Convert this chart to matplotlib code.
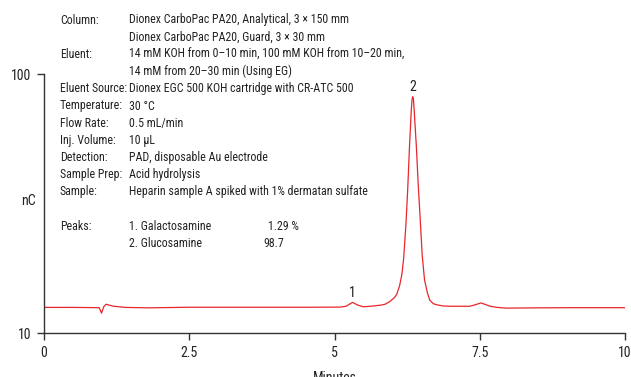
import matplotlib
matplotlib.use('Agg')
import matplotlib.pyplot as plt

plt.rcParams['font.family'] = ['Roboto Condensed', 'DejaVu Sans']

# chromatogram trace (minutes, nC)
minutes = [0.0, 0.5, 0.95, 0.99, 1.03, 1.07, 1.12, 1.2, 1.4, 1.8, 2.5, 3.5, 4.5,
           5.1, 5.2, 5.31, 5.4, 5.5, 5.67, 5.8, 5.87, 5.95, 6.03, 6.07, 6.12,
           6.16, 6.19, 6.23, 6.26, 6.29, 6.32, 6.335, 6.346, 6.358, 6.37, 6.41,
           6.44, 6.47, 6.51, 6.55, 6.6, 6.64, 6.7, 6.76, 6.87, 7.0, 7.33, 7.42,
           7.52, 7.6, 7.68, 7.8, 7.96, 8.5, 9.0, 10.0]
signal = [19.0, 19.0, 18.9, 17.0, 19.3, 20.1, 19.8, 19.4, 19.0, 18.85, 19.05,
          19.05, 19.05, 19.1, 19.4, 20.75, 19.8, 19.2, 19.5, 19.8, 20.1, 21.0,
          22.4, 23.5, 26.5, 30.5, 36.0, 48.0, 60.0, 74.5, 87.0, 91.3, 92.2,
          91.5, 88.0, 74.5, 62.0, 51.5, 37.0, 28.5, 24.0, 21.5, 20.3, 19.9,
          19.5, 19.4, 19.4, 19.9, 20.55, 20.0, 19.4, 19.0, 18.75, 18.85, 18.9,
          18.9]

peak_ids = ['1', '2']
peak_times = [5.31, 6.346]
peak_heights = [20.75, 92.2]

x_ticks = [0, 2.5, 5, 7.5, 10]
x_tick_labels = ['0', '2.5', '5', '7.5', '10']
y_ticks = [10, 100]

info_rows = [
    ('Column:', 'Dionex CarboPac PA20, Analytical, 3 \u00d7 150 mm'),
    ('', 'Dionex CarboPac PA20, Guard, 3 \u00d7 30 mm'),
    ('Eluent:', '14 mM KOH from 0\u201310 min, 100 mM KOH from 10\u201320 min,'),
    ('', '14 mM from 20\u201330 min (Using EG)'),
    ('Eluent Source:', 'Dionex EGC 500 KOH cartridge with CR-ATC 500'),
    ('Temperature:', '30 \u00b0C'),
    ('Flow Rate:', '0.5 mL/min'),
    ('Inj. Volume:', '10 \u00b5L'),
    ('Detection:', 'PAD, disposable Au electrode'),
    ('Sample Prep:', 'Acid hydrolysis'),
    ('Sample:', 'Heparin sample A spiked with 1% dermatan sulfate'),
]
peak_names = ['1. Galactosamine', '2. Glucosamine']
peak_amounts = ['1.29 %', '98.7']

W, H = 631, 377
fig = plt.figure(figsize=(W / 100, H / 100), dpi=100)
ax = fig.add_axes([44 / W, 1 - 333.3 / H, 581 / W, 259 / H])

ax.plot(minutes, signal, color='#e8262c', lw=0.9)
for pid, pt, ph in zip(peak_ids, peak_times, peak_heights):
    ax.annotate(pid, (pt, ph), xytext=(0, 2), textcoords='offset points',
                ha='center', va='bottom', fontsize=10, color='#222222')

ax.set_xlim(0, 10)
ax.set_ylim(10, 100)
ax.set_xticks(x_ticks)
ax.set_xticklabels(x_tick_labels)
ax.set_yticks(y_ticks)
for s in ['top', 'right']:
    ax.spines[s].set_visible(False)
for s in ['left', 'bottom']:
    ax.spines[s].set_color('#333333')
    ax.spines[s].set_linewidth(1.0)
ax.tick_params(direction='out', length=5, width=1.0, color='#333333',
               labelsize=10, labelcolor='#222222', pad=4)
ax.set_xlabel('Minutes', fontsize=10, color='#222222', labelpad=8)
ax.set_ylabel('nC', rotation=0, fontsize=10, color='#222222')
ax.yaxis.set_label_coords(-0.0275, 0.484)

# method text block
fs = 8.6
row_h = 17.2
for i, (lab, val) in enumerate(info_rows):
    y = 1 - (20 + i * row_h) / H
    fig.text(60 / W, y, lab, fontsize=fs, va='center', color='#222222')
    fig.text(129 / W, y, val, fontsize=fs, va='center', color='#222222')
for j, (nm, amt) in enumerate(zip(peak_names, peak_amounts)):
    y = 1 - (20 + (12 + j) * row_h) / H
    if j == 0:
        fig.text(60 / W, y, 'Peaks:', fontsize=fs, va='center', color='#222222')
    fig.text(129 / W, y, nm, fontsize=fs, va='center', color='#222222')
    fig.text((268 if j == 0 else 263) / W, y, amt, fontsize=fs, va='center',
             color='#222222')

fig.savefig('out.png', dpi=100)
